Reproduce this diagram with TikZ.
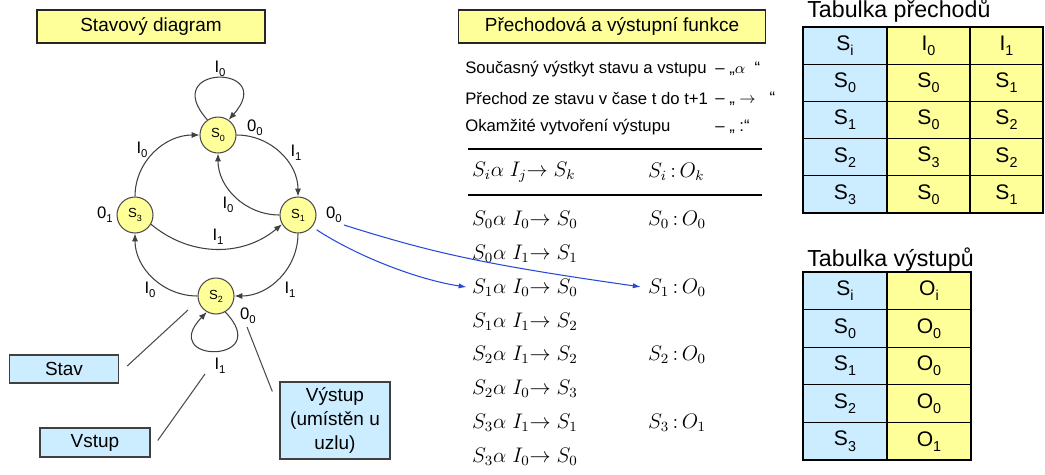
\documentclass[tikz,border=0pt]{standalone}
\usepackage{fontspec}
\setmainfont{Liberation Sans}
\usetikzlibrary{arrows.meta,positioning}

\definecolor{sdYellow}{RGB}{255,255,153}
\definecolor{sdBlue}{RGB}{204,236,255}
\definecolor{sdEdge}{RGB}{64,64,64}
\definecolor{sdLink}{RGB}{40,72,220}

\newcommand{\lo}[1]{\raisebox{-0.45ex}{\scalebox{0.68}{#1}}}
\newcommand{\fsz}[1]{\fontsize{#1}{#1}\selectfont}

\begin{document}
\begin{tikzpicture}[x=0.02cm,y=0.02cm,
    titlebox/.style={draw=black!85,fill=sdYellow,line width=0.8pt,minimum height=0.66cm,font=\fsz{10.8}},
    notebox/.style={draw=black!75,fill=sdBlue,line width=0.8pt,align=center,font=\fontsize{10.8}{13.4}\selectfont},
    state/.style={circle,draw=black!70,fill=sdYellow,line width=0.6pt,minimum size=0.72cm,inner sep=0pt,font=\fsz{7.5}},
    edgelbl/.style={font=\fsz{9.5},inner sep=1pt},
    trans/.style={draw=sdEdge,line width=0.6pt,-{Latex[length=4.5pt,width=3.5pt]}},
    pointer/.style={draw=black!70,line width=0.6pt},
    link/.style={draw=sdLink,line width=0.6pt,-{Latex[length=4.5pt,width=3pt]}},
    desc/.style={anchor=west,font=\fsz{9.5},inner sep=0pt},
    rule/.style={line width=0.85pt},
    fn/.style={anchor=west,font=\fsz{12},inner sep=1pt},
    cell/.style={font=\fsz{12},inner sep=0pt},
    tabtitle/.style={anchor=base west,font=\fsz{13.2},inner sep=0pt}]
    \useasboundingbox (0,0) rectangle (1045,-474);

    % headings
    \node[titlebox,minimum width=4.56cm] (titleL) at (151,-26.5) {Stavový diagram};
    \node[titlebox,minimum width=6.14cm] (titleR) at (612,-26.5) {Přechodová a výstupní funkce};

    % state diagram
    \node[state] (s0) at (218,-135) {S\lo{0}};
    \node[state] (s1) at (298,-215) {S\lo{1}};
    \node[state] (s2) at (216,-296) {S\lo{2}};
    \node[state] (s3) at (135,-215) {S\lo{3}};

    \draw[trans] (s0.125) .. controls +(-50,56) and +(50,56) .. (s0.55);
    \draw[trans] (s0.east) to[out=0,in=90] (s1.north);
    \draw[trans] (s1.west) to[out=180,in=-90] (s0.south);
    \draw[trans] (s3.north) to[out=90,in=180] (s0.west);
    \draw[trans] (s3.-30) to[bend right=40] (s1.-150);
    \draw[trans] (s2.west) to[out=180,in=-90] (s3.south);
    \draw[trans] (s1.south) to[out=-90,in=0] (s2.east);
    \draw[trans] (s2.-60) .. controls +(50,-52) and +(-50,-52) .. (s2.-120);

    \node[edgelbl] (lS0loop) at (220,-69) {I\lo{0}};
    \node[edgelbl] (lS0out) at (255,-128) {0\lo{0}};
    \node[edgelbl] (lS0S1) at (296,-153) {I\lo{1}};
    \node[edgelbl] (lS1S0) at (228,-205) {I\lo{0}};
    \node[edgelbl] (lS3S0) at (142,-150) {I\lo{0}};
    \node[edgelbl] (lS3out) at (105,-215) {0\lo{1}};
    \node[edgelbl] (lS1out) at (334,-215) {0\lo{0}};
    \node[edgelbl] (lS3S1) at (218,-237) {I\lo{1}};
    \node[edgelbl] (lS2S3) at (150,-290) {I\lo{0}};
    \node[edgelbl] (lS1S2) at (290,-290) {I\lo{1}};
    \node[edgelbl] (lS2out) at (248,-316) {0\lo{0}};
    \node[edgelbl] (lS2loop) at (220,-366) {I\lo{1}};

    % notes
    \node[notebox,minimum width=2.18cm,minimum height=0.56cm] (stav) at (64,-369) {Stav};
    \node[notebox,minimum width=2.2cm,minimum height=0.58cm] (vstup) at (95,-442.5) {Vstup};
    \node[notebox,minimum width=2.2cm,minimum height=1.5cm] (vystup) at (335,-420.5) {Výstup\\(umístěn u\\uzlu)};
    \coordinate (stavTip) at (188,-310);
    \coordinate (vstupTip) at (205,-374);
    \coordinate (vystupTip) at (247,-327);
    \draw[pointer] (stav.east) ++(8,3) -- (stavTip);
    \draw[pointer] (vstup.east) ++(7,2) -- (vstupTip);
    \draw[pointer] (vystup.north west) ++(-7,-10) -- (vystupTip);

    % transition and output functions
    \node[desc] (descA) at (465,-69) {Současný výstkyt stavu a vstupu};
    \node[desc] (descB) at (465,-99) {Přechod ze stavu v čase t do t+1};
    \node[desc] (descC) at (465,-127) {Okamžité vytvoření výstupu};
    \node[desc] (symA) at (715,-69) {– „$\alpha$\ \ “};
    \node[desc] (symB) at (715,-99) {– „\ $\rightarrow$\ \ \ “};
    \node[desc] (symC) at (715,-127) {– „\ :“};

    \draw[rule] (468,-149) -- (762,-149);
    \draw[rule] (468,-195) -- (762,-195);
    \node[fn] (headL) at (470,-172) {$S_i\alpha\ I_j{\rightarrow}\ S_k$};
    \node[fn] (headR) at (646,-172) {$S_i\,{:}\,O_k$};

    \foreach \a/\b/\c [count=\k from 0] in {0/0/0,0/1/1,1/0/0,1/1/2,2/1/2,2/0/3,3/1/1,3/0/0}
        \node[fn] (row\k) at (470,{-220-33.8*\k}) {$S_\a\alpha\ I_\b{\rightarrow}\ S_\c$};
    \node[fn] (out0) at (646,-220) {$S_0\,{:}\,O_0$};
    \node[fn] (out1) at (646,-287.6) {$S_1\,{:}\,O_0$};
    \node[fn] (out2) at (646,-355.2) {$S_2\,{:}\,O_0$};
    \node[fn] (out3) at (646,-422.8) {$S_3\,{:}\,O_1$};

    \draw[link,shorten >=3pt] (lS1out.south east) .. controls (430,-252) and (480,-264) .. (out1.west);
    \draw[link,shorten <=3pt,shorten >=2pt] (s1.-40) .. controls (360,-258) and (420,-280) .. (row2.west);

    % table of transitions
    \node[tabtitle] (tpTitle) at (807,-17) {Tabulka přechodů};
    \fill[sdBlue] (803,-27) rectangle (887,-213);
    \fill[sdYellow] (887,-27) rectangle (1043,-213);
    \foreach \k in {1,...,4}
        \draw[line width=0.7pt] (803,{-27-37.2*\k}) -- (1043,{-27-37.2*\k});
    \draw[line width=0.7pt] (887,-27) -- (887,-213) (970,-27) -- (970,-213);
    \draw[line width=1.3pt] (803,-27) rectangle (1043,-213);
    \foreach \sa/\sb/\sc [count=\k from 0] in {S\lo{i}/I\lo{0}/I\lo{1},S\lo{0}/S\lo{0}/S\lo{1},S\lo{1}/S\lo{0}/S\lo{2},S\lo{2}/S\lo{3}/S\lo{2},S\lo{3}/S\lo{0}/S\lo{1}}{
        \node[cell] (tpA\k) at (845,{-45.6-37.2*\k}) {\sa};
        \node[cell] (tpB\k) at (928.5,{-45.6-37.2*\k}) {\sb};
        \node[cell] (tpC\k) at (1006.5,{-45.6-37.2*\k}) {\sc};
    }

    % table of outputs
    \node[tabtitle] (tvTitle) at (807,-266) {Tabulka výstupů};
    \fill[sdBlue] (803,-272) rectangle (887,-460);
    \fill[sdYellow] (887,-272) rectangle (971,-460);
    \foreach \k in {1,...,4}
        \draw[line width=0.7pt] (803,{-272-37.6*\k}) -- (971,{-272-37.6*\k});
    \draw[line width=0.7pt] (887,-272) -- (887,-460);
    \draw[line width=1.3pt] (803,-272) rectangle (971,-460);
    \foreach \sa/\sb [count=\k from 0] in {S\lo{i}/O\lo{i},S\lo{0}/O\lo{0},S\lo{1}/O\lo{0},S\lo{2}/O\lo{0},S\lo{3}/O\lo{1}}{
        \node[cell] (tvA\k) at (845,{-290.8-37.6*\k}) {\sa};
        \node[cell] (tvB\k) at (929,{-290.8-37.6*\k}) {\sb};
    }
\end{tikzpicture}
\end{document}
